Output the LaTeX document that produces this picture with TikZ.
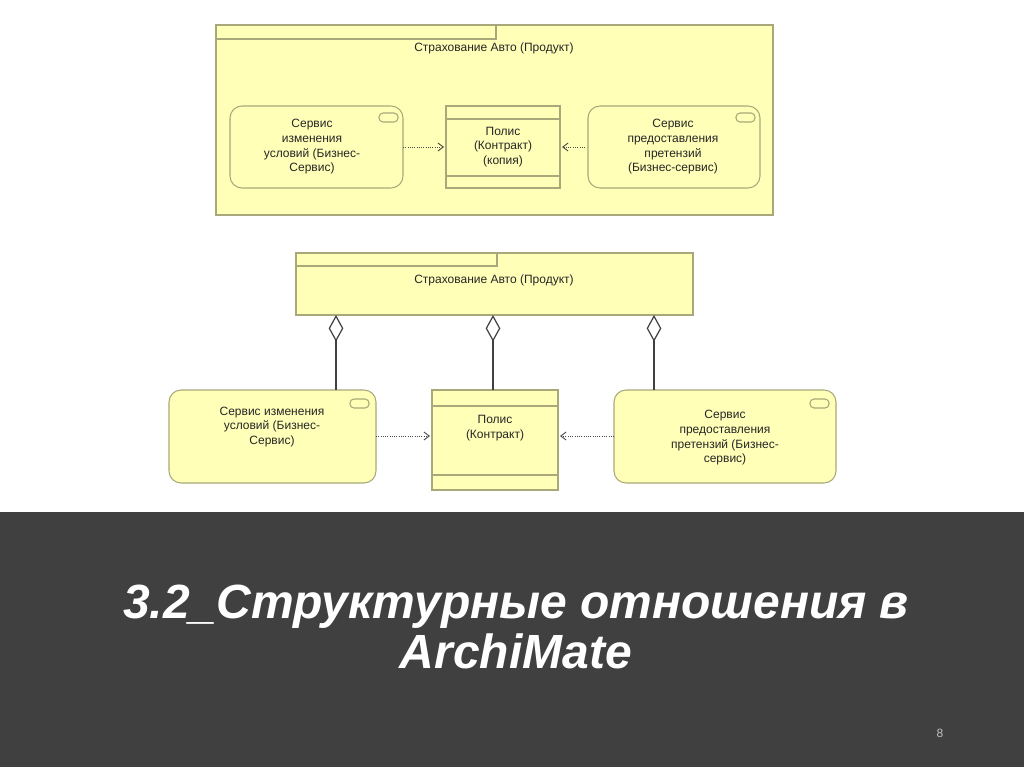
\documentclass[tikz,border=0pt]{standalone}
\usepackage{fontspec}
\setmainfont{Liberation Sans}
\usetikzlibrary{arrows.meta}
\definecolor{yel}{HTML}{FFFFB8}
\definecolor{bord}{HTML}{A8A87A}
\definecolor{band}{HTML}{404040}
\tikzset{
  every node/.style={font=\fontsize{9}{11}\selectfont, text=black!85, align=center},
  elem/.style={draw=bord, fill=yel, line width=0.8pt},
  svc/.style={elem, rounded corners=9pt},
  dep/.style={draw=black!70, densely dotted, line width=0.7pt, -{Straight Barb[length=4pt,width=6pt]}},
  agg/.style={draw=black!75, line width=0.9pt, {Diamond[open,length=20pt,width=11pt,fill=white]}-},
  ttl/.style={font=\fontsize{36}{38}\selectfont\bfseries\itshape},
}
\begin{document}
\begin{tikzpicture}[x=0.75pt,y=-0.75pt]
\useasboundingbox (0,0) rectangle (1024,767);
\fill[white] (0,0) rectangle (1024,512);
\fill[band] (0,512) rectangle (1024,767);
% top product
\path[elem] (216,25) rectangle (773,215);
\draw[bord,line width=0.8pt] (216,39) -- (496,39) -- (496,25);
\node (p1) at (494,48) {Страхование Авто (Продукт)};
\path[svc] (230,106) rectangle (403,188);
\node (s1) at (312,147) {Сервис\\изменения\\условий (Бизнес-\\Сервис)};
\path[elem] (446,106) rectangle (560,188);
\draw[bord,line width=0.8pt] (446,119) -- (560,119) (446,176) -- (560,176);
\node (c1) at (503,147) {Полис\\(Контракт)\\(копия)};
\path[svc] (588,106) rectangle (760,188);
\node (r1) at (673,147) {Сервис\\предоставления\\претензий\\(Бизнес-сервис)};
\draw[bord,line width=0.8pt,rounded corners=3pt] (379,113) rectangle (398,122);
\draw[bord,line width=0.8pt,rounded corners=3pt] (736,113) rectangle (755,122);
\coordinate (a1) at (403,147); \coordinate (b1) at (444,147);
\coordinate (a2) at (585,147); \coordinate (b2) at (562,147);
\draw[dep] (a1) -- (b1);
\draw[dep] (a2) -- (b2);
% bottom product
\path[elem] (296,253) rectangle (693,315);
\draw[bord,line width=0.8pt] (296,266) -- (497,266) -- (497,253);
\node (p2) at (494,280) {Страхование Авто (Продукт)};
\path[svc] (169,390) rectangle (376,483);
\node (s2) at (272,427) {Сервис изменения\\условий (Бизнес-\\Сервис)};
\path[elem] (432,390) rectangle (558,490);
\draw[bord,line width=0.8pt] (432,406) -- (558,406) (432,475) -- (558,475);
\node (c2) at (495,428) {Полис\\(Контракт)};
\path[svc] (614,390) rectangle (836,483);
\node (r2) at (725,438) {Сервис\\предоставления\\претензий (Бизнес-\\сервис)};
\draw[bord,line width=0.8pt,rounded corners=3pt] (350,399) rectangle (369,408);
\draw[bord,line width=0.8pt,rounded corners=3pt] (810,399) rectangle (829,408);
\foreach \x/\n in {336/1,493/2,654/3}{
  \coordinate (t\n) at (\x,315); \coordinate (u\n) at (\x,390);
  \draw[agg] (t\n) -- (u\n);
}
\coordinate (a3) at (376,436); \coordinate (b3) at (430,436);
\coordinate (a4) at (614,436); \coordinate (b4) at (560,436);
\draw[dep] (a3) -- (b3);
\draw[dep] (a4) -- (b4);
% title
\node[ttl, text=black!75] at (518,629) {3.2\_Структурные отношения в\\ArchiMate};
\node (title) [ttl, text=white] at (516,627) {3.2\_Структурные отношения в\\ArchiMate};
\node (pg) [font=\fontsize{9}{10}\selectfont, text=black!25] at (940,733) {8};
\end{tikzpicture}
\end{document}
